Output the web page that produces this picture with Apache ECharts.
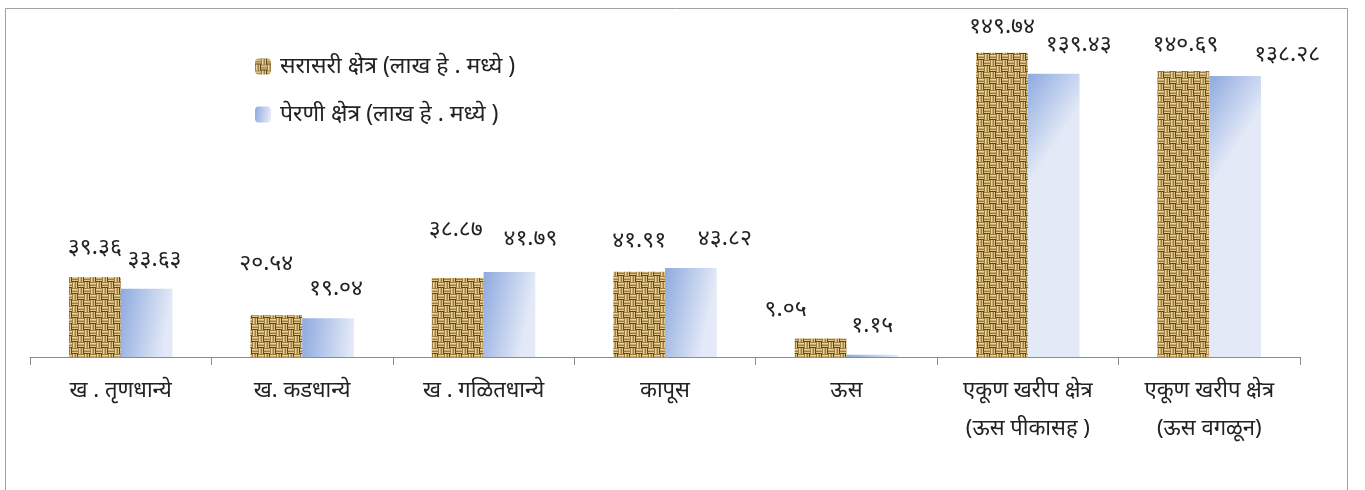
<!DOCTYPE html>
<html><head><meta charset="utf-8">
<script src="https://cdn.jsdelivr.net/npm/echarts@6/dist/echarts.min.js"></script>
<style>html,body{margin:0;padding:0;background:#fff}#c{width:1365px;height:490px}</style>
</head><body><div id="c"></div>
<script>
const categories = ['ख . तृणधान्ये', 'ख. कडधान्ये', 'ख . गळितधान्ये', 'कापूस', 'ऊस', 'एकूण खरीप क्षेत्र\n(ऊस पीकासह )', 'एकूण खरीप क्षेत्र\n(ऊस वगळून)'];
const averageArea = [39.36, 20.54, 38.87, 41.91, 9.05, 149.74, 140.69];
const sownArea = [33.63, 19.04, 41.79, 43.82, 1.15, 139.43, 138.28];
const seriesNames = ['सरासरी क्षेत्र (लाख हे . मध्ये )', 'पेरणी क्षेत्र (लाख हे . मध्ये )'];
// label placement offsets [dx, dy] (style only)
const avgLabelOffsets = [[0,2],[-10,-20],[-2,-17],[0,0],[-35,2],[0,5],[2,5]];
const sownLabelOffsets = [[8,2],[8,2],[21,-2],[34,2],[0,2],[25,2],[52,10]];

function toDeva(v){
  const d='०१२३४५६७८९';
  return v.toFixed(2).replace(/[0-9]/g, c => d[+c]);
}
function burlap(){
  const B=6, S=B*4;
  const c=document.createElement('canvas'); c.width=S; c.height=S;
  const g=c.getContext('2d');
  const rows=['#9c7d43','#e8d49b','#c9aa6c','#9c7d43','#dfc88b','#5f4622'];
  const n=S/B;
  for(let by=0;by<n;by++){for(let bx=0;bx<n;bx++){
    const x=bx*B,y=by*B;
    const horiz=((bx+by)%2===0);
    for(let i=0;i<B;i++){
      g.fillStyle=rows[i];
      if(horiz) g.fillRect(x,y+i,B,1); else g.fillRect(x+i,y,1,B);
    }
  }}
  return c;
}
const tex = burlap();
const chart = echarts.init(document.getElementById('c'));
const ff = '"Noto Sans", "DejaVu Sans", sans-serif';
const lblBase = {show:true,position:'top',distance:20,fontSize:23,color:'#222',fontFamily:ff,formatter:p=>toDeva(p.value)};
chart.setOption({
  animation:false,
  graphic:[{type:'rect',shape:{x:5.5,y:8.5,width:1342,height:500},style:{fill:'none',stroke:'#a0a0a0',lineWidth:1}}],
  legend:{orient:'vertical',left:250,top:50,itemWidth:16,itemHeight:16,itemGap:25,
    textStyle:{fontSize:23,color:'#222',fontFamily:ff,padding:[0,0,0,4]},
    data:seriesNames},
  grid:{left:30,right:65,top:32,bottom:133},
  xAxis:{type:'category',data:categories,
    axisLine:{lineStyle:{color:'#8c8c8c',width:1}},
    axisTick:{show:true,length:8,lineStyle:{color:'#8c8c8c'}},
    axisLabel:{fontSize:22,color:'#222',margin:15,lineHeight:38,fontFamily:ff,interval:0}},
  yAxis:{type:'value',min:0,max:160,show:false,splitLine:{show:false}},
  series:[
    {name:seriesNames[0],type:'bar',barGap:'0%',barCategoryGap:'43%',
      data:averageArea.map((v,i)=>({value:v,label:{offset:avgLabelOffsets[i]}})),
      itemStyle:{color:{image:tex,repeat:'repeat'}},
      label:lblBase},
    {name:seriesNames[1],type:'bar',
      data:sownArea.map((v,i)=>({value:v,label:{offset:sownLabelOffsets[i]}})),
      itemStyle:{color:new echarts.graphic.LinearGradient(0,0,1,0.12,[{offset:0,color:'#8eaadf'},{offset:1,color:'#e3e9f7'}])},
      label:lblBase}
  ]
});
</script></body></html>
